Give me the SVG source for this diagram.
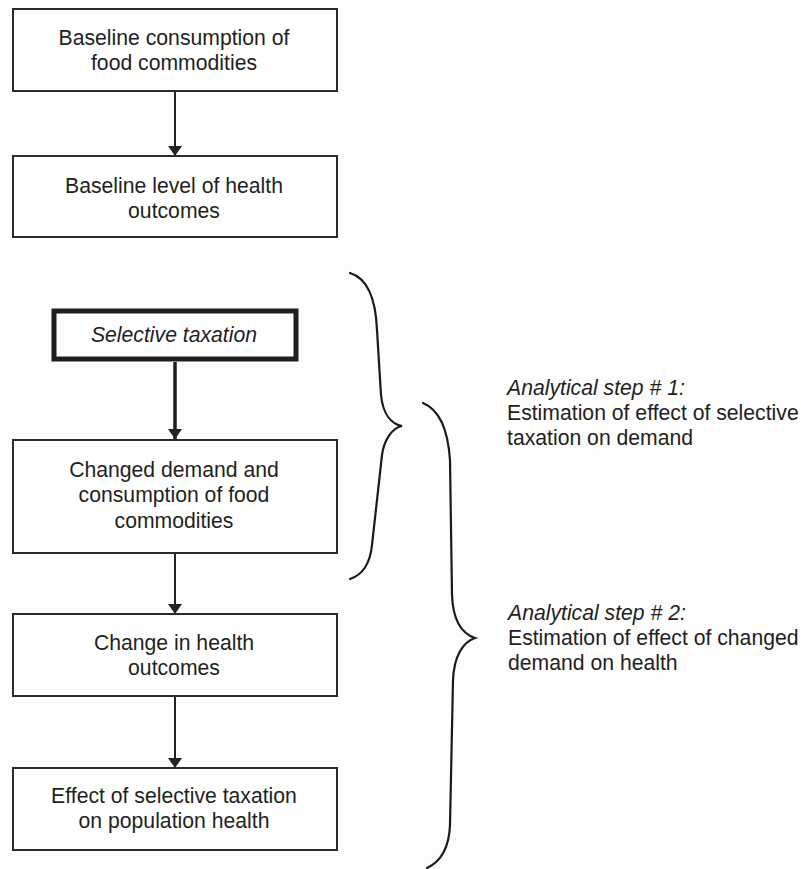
<svg xmlns="http://www.w3.org/2000/svg" width="801" height="869" viewBox="0 0 801 869">
<defs>
<style>
.box{fill:#ffffff;stroke:#2b2b2b;stroke-width:2}
.thick{fill:#ffffff;stroke:#1e1e1e;stroke-width:5}
.t{font-family:"Liberation Sans",Arial,sans-serif;font-size:21.2px;fill:#231f20;text-anchor:middle}
.r{font-family:"Liberation Sans",Arial,sans-serif;font-size:21.2px;fill:#231f20}
.i{font-style:italic}
.ln{stroke:#222;stroke-width:2;fill:none}
.lnb{stroke:#1e1e1e;stroke-width:3.5;fill:none}
.br{stroke:#1a1a1a;stroke-width:2.2;fill:none;stroke-linecap:round}
</style>
<marker id="ah" viewBox="0 0 10 14" refX="10" refY="7" markerWidth="10" markerHeight="14" markerUnits="userSpaceOnUse" orient="auto">
<path d="M0,0 L10,7 L0,14 Z" fill="#222"/>
</marker>
</defs>
<rect width="801" height="869" fill="#fdfdfd"/>
<g id="connectors">
<line class="ln" x1="175" y1="91" x2="175" y2="156" marker-end="url(#ah)"/>
<line class="lnb" x1="175" y1="362" x2="175" y2="439" marker-end="url(#ah)"/>
<line class="ln" x1="175" y1="553" x2="175" y2="614" marker-end="url(#ah)"/>
<line class="ln" x1="175" y1="696" x2="175" y2="768" marker-end="url(#ah)"/>
</g>
<g id="n1">
<rect class="box" x="13" y="9" width="324" height="82"/>
<text class="t" x="174" y="45">Baseline consumption of</text>
<text class="t" x="174" y="70">food commodities</text>
</g>
<g id="n2">
<rect class="box" x="13" y="156" width="324" height="81"/>
<text class="t" x="174" y="193">Baseline level of health</text>
<text class="t" x="174" y="218">outcomes</text>
</g>
<g id="n3">
<rect class="thick" x="54" y="311" width="242" height="48"/>
<text class="t i" x="174" y="342">Selective taxation</text>
</g>
<g id="n4">
<rect class="box" x="13" y="440" width="324" height="113"/>
<text class="t" x="174" y="477">Changed demand and</text>
<text class="t" x="174" y="502">consumption of food</text>
<text class="t" x="174" y="528">commodities</text>
</g>
<g id="n5">
<rect class="box" x="13" y="614" width="324" height="82"/>
<text class="t" x="174" y="650">Change in health</text>
<text class="t" x="174" y="675">outcomes</text>
</g>
<g id="n6">
<rect class="box" x="13" y="768" width="324" height="82"/>
<text class="t" x="174" y="803">Effect of selective taxation</text>
<text class="t" x="174" y="828">on population health</text>
</g>
<g id="brace1">
<path class="br" d="M350,273 C370,279 376,305 377,330 L381,395 C383,415 392,424 402,426 C392,428 384,440 382,455 L372,545 C370,565 362,575 350,579"/>
</g>
<g id="brace2">
<path class="br" d="M423,403 C440,410 448,430 450,460 L452,595 C453,622 463,634 475,638 C463,642 454,656 453,680 L450,825 C449,850 440,862 427,868"/>
</g>
<g id="step1">
<text class="r i" x="507" y="395">Analytical step # 1:</text>
<text class="r" x="507" y="420">Estimation of effect of selective</text>
<text class="r" x="507" y="445">taxation on demand</text>
</g>
<g id="step2">
<text class="r i" x="508" y="620">Analytical step # 2:</text>
<text class="r" x="508" y="645">Estimation of effect of changed</text>
<text class="r" x="508" y="670">demand on health</text>
</g>
</svg>
